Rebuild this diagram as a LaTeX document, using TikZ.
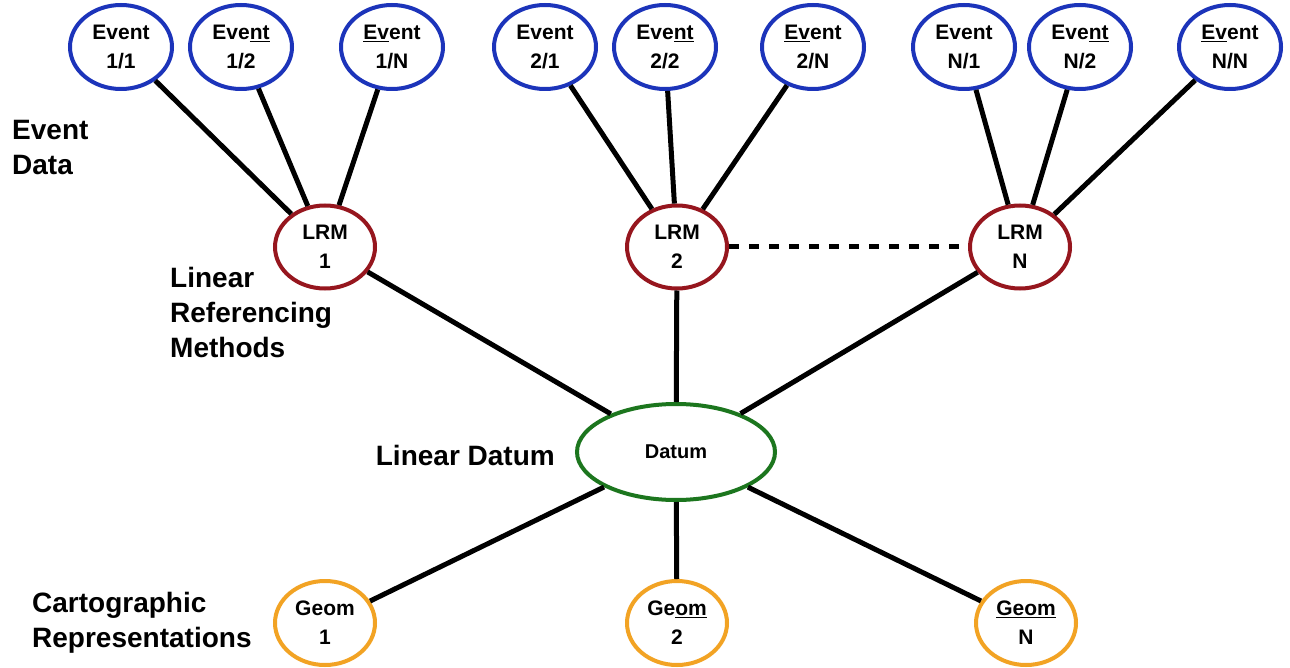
\documentclass[tikz,border=0pt]{standalone}
\usepackage{fontspec}
\setmainfont{Liberation Sans}
\usepackage{tikz}
\usetikzlibrary{shapes.geometric}
\definecolor{evtblue}{RGB}{28,52,186}
\definecolor{lrmred}{RGB}{150,22,30}
\definecolor{datgreen}{RGB}{28,118,30}
\definecolor{geoorange}{RGB}{242,163,36}
\newcommand{\NodeFont}{\fontsize{21}{29}\selectfont\bfseries}
\newcommand{\LabelFont}{\fontsize{28}{35}\selectfont\bfseries}

\begin{document}
\begin{tikzpicture}[
x=1pt, y=-1pt,
MyEllipses/.style={ellipse,line width=4pt,fill=white,inner sep=0pt,align=center,font=\NodeFont},
EventNode/.style={MyEllipses,draw=evtblue,minimum width=102pt,minimum height=84pt},
LrmNode/.style={MyEllipses,draw=lrmred,minimum width=100pt,minimum height=83pt},
DatumNode/.style={MyEllipses,draw=datgreen,minimum width=198pt,minimum height=96pt,font=\fontsize{20}{27}\selectfont\bfseries},
GeomNode/.style={MyEllipses,draw=geoorange,minimum width=100pt,minimum height=84pt},
Links/.style={black,line width=5pt},
Levels/.style={anchor=north west,align=left,inner sep=0pt,font=\LabelFont}
]
\useasboundingbox[fill=white] (0,0) rectangle (1290,668);

% event data (top row)
\node[EventNode] (E11) at (121,47) {Event\\1/1};
\node[EventNode] (E12) at (241,47) {Eve\underline{nt}\\1/2};
\node[EventNode] (E1N) at (392,47) {\underline{Ev}ent\\1/N};
\node[EventNode] (E21) at (545,47) {Event\\2/1};
\node[EventNode] (E22) at (665,47) {Eve\underline{nt}\\2/2};
\node[EventNode] (E2N) at (813,47) {\underline{Ev}ent\\2/N};
\node[EventNode] (EN1) at (964,47) {Event\\N/1};
\node[EventNode] (EN2) at (1080,47) {Eve\underline{nt}\\N/2};
\node[EventNode] (ENN) at (1230,47) {\underline{Ev}ent\\N/N};

% linear referencing methods
\node[LrmNode] (L1) at (325,247) {LRM\\1};
\node[LrmNode] (L2) at (677,247) {LRM\\2};
\node[LrmNode] (LN) at (1020,247) {LRM\\N};

% the datum
\node[DatumNode] (D) at (676,452) {Datum};

% cartographic geometries
\node[GeomNode] (G1) at (325,623) {Geom\\1};
\node[GeomNode] (G2) at (677,623) {Ge\underline{om}\\2};
\node[GeomNode] (GN) at (1026,623) {\underline{Geom}\\N};

% connectors
\draw[Links] (E11)--(L1) (E12)--(L1) (E1N)--(L1);
\draw[Links] (E21)--(L2) (E22)--(L2) (E2N)--(L2);
\draw[Links] (EN1)--(LN) (EN2)--(LN) (ENN)--(LN);
\draw[Links] (L1)--(D) (L2)--(D) (LN)--(D);
\draw[Links] (D)--(G1) (D)--(G2) (D)--(GN);
\draw[Links, dash pattern=on 10pt off 10pt] (L2)--(LN);

% level names on the left
\node[Levels] (lvlEvent) at (12,120) {Event\\Data};
\node[Levels] (lvlLrm) at (170,267) {Linear\\Referencing\\Methods};
\node[Levels, anchor=base east] (lvlDatum) at (555,465) {Linear Datum};
\node[Levels] (lvlGeom) at (32,592) {Cartographic\\Representations};

\end{tikzpicture}
\end{document}
